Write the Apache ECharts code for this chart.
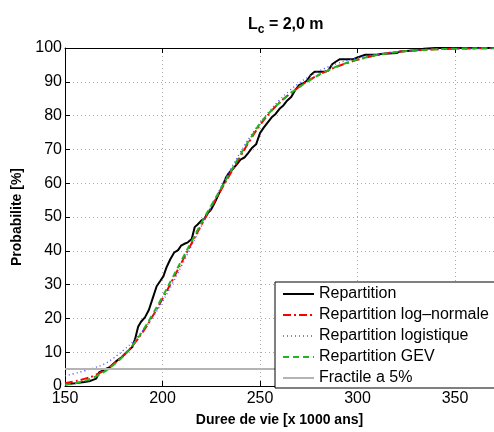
<!DOCTYPE html>
<html>
<head>
<meta charset="utf-8">
<script src="https://cdn.jsdelivr.net/npm/echarts@6/dist/echarts.min.js"></script>
<style>
  html, body { margin: 0; padding: 0; background: #fff; }
  #chart { width: 494px; height: 432px; }
</style>
</head>
<body>
<div id="chart"></div>
<script>
// empirical distribution (step-like)
var empX = [150, 155, 160, 163, 166, 167.5, 170, 173, 176, 179, 182, 184.5, 186, 187.5, 189, 191, 193, 195, 197, 199,
  200.5, 202, 204, 206, 208, 209.5, 211, 213, 215, 216.5, 218, 220, 221.5, 223, 225, 227, 229, 231, 232.5, 234,
  236, 238, 240, 242, 244, 246, 248, 250, 252, 254, 256, 258, 260, 262, 264, 266, 268, 270, 272, 274,
  276, 278, 283, 285, 287, 289, 291, 298, 300, 304, 310, 312, 320, 322, 330, 334, 340, 370];
var empY = [0.5, 0.8, 1.2, 1.5, 2.2, 4.0, 4.8, 5.6, 7.2, 8.5, 10.2, 11.5, 14, 17.5, 19, 20.3, 22.5, 26, 29.5, 31.2,
  32.5, 35, 37.5, 39.5, 40.2, 41.5, 42, 42.5, 43.5, 47, 47.8, 49, 49.5, 51, 52.3, 54.5, 57, 59.5, 61.6, 63,
  64.2, 65.5, 67, 67.6, 69, 70.5, 71.5, 74.8, 76.5, 78, 79.5, 80.5, 82, 83, 84.5, 85.5, 87.5, 89, 89.5, 90.3,
  92, 93, 93, 93.3, 95.2, 96, 96.7, 96.7, 97.2, 98, 98, 98.2, 98.5, 99, 99.3, 99.8, 100, 100];

// fitted curves
var fitX = [150, 155, 160, 165, 170, 175, 180, 185, 190, 195, 200, 205, 210, 215, 220, 225, 230, 235, 240, 245,
  250, 255, 260, 265, 270, 275, 280, 285, 290, 295, 300, 310, 320, 330, 340, 350, 370];
var logNormY = [0.8, 1.4, 2.1, 3.1, 4.6, 6.5, 9, 12.2, 16.1, 20.7, 25.8, 31.2, 36.8, 42.3, 47.7, 52.9, 58, 63, 68, 72.8,
  77.2, 80.8, 83.8, 86.3, 88.5, 90.4, 92, 93.4, 94.6, 95.6, 96.5, 97.9, 98.8, 99.3, 99.6, 99.8, 99.95];
var logisY = [3.0, 3.7, 4.5, 5.4, 6.5, 8.3, 10.6, 13.2, 16.5, 20.4, 25, 30.2, 35.8, 41.6, 47.4, 53.2, 58.8, 64.2, 69.2, 73.8,
  77.8, 81.4, 84.6, 87.3, 89.6, 91.5, 93.1, 94.4, 95.5, 96.4, 97.1, 98.2, 98.9, 99.3, 99.6, 99.7, 99.9];
var gevY = [0.4, 0.8, 1.5, 2.6, 4.2, 6.3, 8.9, 12.3, 16.5, 21.3, 26.4, 31.9, 37.4, 42.9, 48.3, 53.4, 58.4, 63.5, 68.5, 73.2,
  77.6, 81, 83.8, 86.3, 88.4, 90.3, 92, 93.4, 94.7, 95.7, 96.6, 97.9, 98.8, 99.3, 99.6, 99.8, 99.95];

var fractX = [150, 370];
var fractY = [5, 5];

var names = ['Repartition', 'Repartition log\u2013normale', 'Repartition logistique', 'Repartition GEV', 'Fractile a 5%'];
var colors = ['#000000', '#ff0000', '#4f4fff', '#1fb51f', '#b4b4b4'];

function pairs(xs, ys) {
  var out = [];
  for (var i = 0; i < xs.length; i++) out.push([xs[i], ys[i]]);
  return out;
}

var font = 'Liberation Sans, Arial, Helvetica, sans-serif';
var chart = echarts.init(document.getElementById('chart'), null, { renderer: 'canvas' });

var gridLine = { show: true, lineStyle: { color: '#aaa', type: [1, 3], width: 1 } };

var lineStyles = [
  { color: colors[0], width: 2 },
  { color: colors[1], width: 2, type: [8, 3, 2, 3] },
  { color: colors[2], width: 1.4, type: [1, 3] },
  { color: colors[3], width: 2, type: [6, 4] },
  { color: colors[4], width: 2 }
];

var legendData = names.map(function (n, i) {
  return { name: n, itemStyle: { opacity: 0 }, lineStyle: lineStyles[i] };
});

chart.setOption({
  animation: false,
  backgroundColor: '#fff',
  title: {
    text: '{a|L}{b|c}{a| = 2,0 m}',
    left: 248,
    top: 14,
    padding: 0,
    textStyle: {
      rich: {
        a: { fontFamily: font, fontWeight: 'bold', fontSize: 16, color: '#000' },
        b: { fontFamily: font, fontWeight: 'bold', fontSize: 12, color: '#000', padding: [10, 0, 0, 0] }
      }
    }
  },
  grid: { left: 65, top: 48, width: 441, height: 344 },
  legend: {
    orient: 'vertical',
    left: 275,
    top: 282,
    data: legendData,
    backgroundColor: '#fff',
    borderColor: '#000',
    borderWidth: 1,
    borderRadius: 0,
    padding: [4, 14, 2, 7],
    itemGap: 5,
    itemWidth: 31,
    itemHeight: 14,
    itemStyle: { opacity: 0 },
    textStyle: { fontFamily: font, fontSize: 16, color: '#000' }
  },
  xAxis: [{
    type: 'value',
    min: 150,
    max: 370,
    interval: 50,
    name: 'Duree de vie [x 1000 ans]',
    nameLocation: 'middle',
    nameGap: 27,
    nameTextStyle: { fontFamily: font, fontWeight: 'bold', fontSize: 14, color: '#000' },
    axisLine: { lineStyle: { color: '#000', width: 1 } },
    axisTick: { inside: true, length: 5, lineStyle: { color: '#000' } },
    axisLabel: { fontFamily: font, fontSize: 16, color: '#000', margin: 5, showMaxLabel: false },
    splitLine: gridLine
  }, {
    type: 'value',
    position: 'top',
    min: 150,
    max: 370,
    interval: 50,
    axisLine: { lineStyle: { color: '#000', width: 1 } },
    axisTick: { inside: true, length: 5, lineStyle: { color: '#000' } },
    axisLabel: { show: false },
    splitLine: { show: false }
  }],
  yAxis: {
    type: 'value',
    min: 0,
    max: 100,
    interval: 10,
    name: 'Probabilite [%]',
    nameLocation: 'middle',
    nameGap: 33,
    nameTextStyle: { fontFamily: font, fontWeight: 'bold', fontSize: 14, color: '#000' },
    axisLine: { show: true, lineStyle: { color: '#000', width: 1 } },
    axisTick: { show: true, inside: true, length: 5, lineStyle: { color: '#000' } },
    axisLabel: { fontFamily: font, fontSize: 16, color: '#000', margin: 3 },
    splitLine: gridLine
  },
  series: [{
    name: names[0],
    type: 'line',
    symbol: 'none',
    data: pairs(empX, empY),
    lineStyle: lineStyles[0],
    itemStyle: { color: colors[0] }
  }, {
    name: names[1],
    type: 'line',
    symbol: 'none',
    smooth: true,
    data: pairs(fitX, logNormY),
    lineStyle: lineStyles[1],
    itemStyle: { color: colors[1] }
  }, {
    name: names[2],
    type: 'line',
    symbol: 'none',
    smooth: true,
    data: pairs(fitX, logisY),
    lineStyle: lineStyles[2],
    itemStyle: { color: colors[2] }
  }, {
    name: names[3],
    type: 'line',
    symbol: 'none',
    smooth: true,
    data: pairs(fitX, gevY),
    lineStyle: lineStyles[3],
    itemStyle: { color: colors[3] }
  }, {
    name: names[4],
    type: 'line',
    symbol: 'none',
    data: pairs(fractX, fractY),
    lineStyle: lineStyles[4],
    itemStyle: { color: colors[4] }
  }]
});
</script>
</body>
</html>
